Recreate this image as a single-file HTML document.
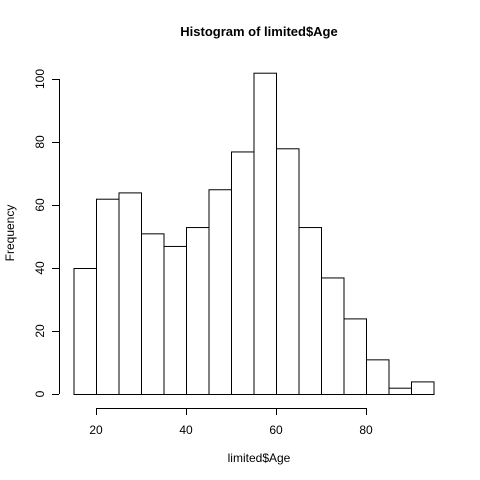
<!DOCTYPE html>
<html><head><meta charset="utf-8"><style>
body{margin:0;background:#fff}
svg{display:block;font-family:"Liberation Sans",sans-serif}
</style></head><body>
<svg id="chart" width="480" height="480">
<rect width="480" height="480" fill="#fff"/>
<text x="259" y="36" text-anchor="middle" font-size="13" font-weight="bold">Histogram of limited$Age</text>
<text x="259" y="462" text-anchor="middle" font-size="12">limited$Age</text>
<text transform="translate(14,233) rotate(-90)" text-anchor="middle" font-size="12">Frequency</text>
<g id="bars"></g><g id="xaxis"></g><g id="yaxis"></g>
</svg>
<script>
const binStarts=[15,20,25,30,35,40,45,50,55,60,65,70,75,80,85,90];
const counts=[40,62,64,51,47,53,65,77,102,78,53,37,24,11,2,4];
const binWidth=5;
const xTicks=[20,40,60,80];
const yTicks=[0,20,40,60,80,100];
const NS="http://www.w3.org/2000/svg";
const xs=v=>96+(v-20)*4.5;
const ys=v=>394-v*3.15;
function mk(t,a,p){const e=document.createElementNS(NS,t);for(const k in a)e.setAttribute(k,a[k]);p.appendChild(e);return e;}
const bars=document.getElementById('bars');
binStarts.forEach((b,i)=>{
 const r=mk('rect',{x:xs(b)+0.5,y:ys(counts[i])+0.5,width:xs(b+binWidth)-xs(b),height:ys(0)-ys(counts[i]),fill:'#fff',stroke:'#000','stroke-width':1},bars);
 
 
});
const xa=document.getElementById('xaxis');
const xl=mk('line',{x1:xs(xTicks[0]),x2:xs(xTicks[xTicks.length-1]),y1:408.5,y2:408.5,stroke:'#000'},xa);


xTicks.forEach(t=>{
 mk('line',{x1:xs(t)+0.5,x2:xs(t)+0.5,y1:408,y2:415,stroke:'#000'},xa);
 const tx=mk('text',{x:xs(t),y:434,'text-anchor':'middle','font-size':12},xa);
 tx.textContent=t;
 
 
});
const ya=document.getElementById('yaxis');
const yl=mk('line',{x1:59.5,x2:59.5,y1:ys(0),y2:ys(100),stroke:'#000'},ya);


yTicks.forEach(t=>{
 mk('line',{x1:52,x2:59,y1:ys(t)+0.5,y2:ys(t)+0.5,stroke:'#000'},ya);
 const tx=mk('text',{'text-anchor':'middle','font-size':12,transform:`translate(44,${ys(t)}) rotate(-90)`},ya);
 tx.textContent=t;
 
 
});
</script>
</body></html>
